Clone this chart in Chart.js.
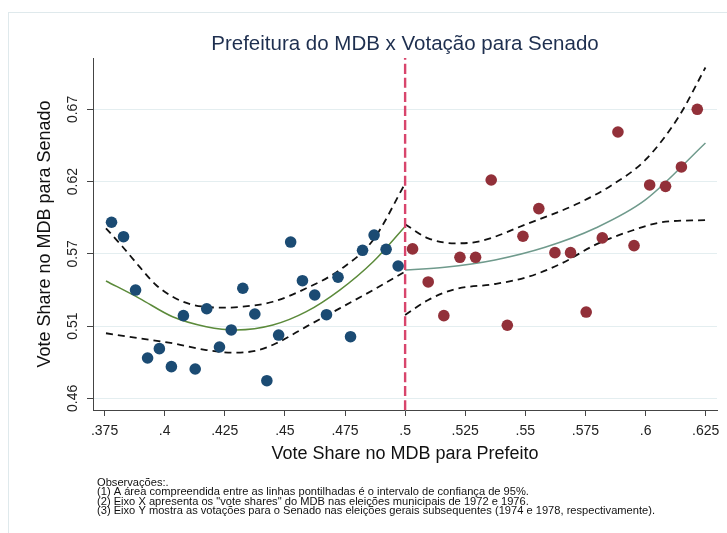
<!DOCTYPE html>
<html>
<head>
<meta charset="utf-8">
<script src="https://cdn.jsdelivr.net/npm/chart.js@4.4.1/dist/chart.umd.min.js"></script>
<style>
  html, body { margin: 0; padding: 0; background: #fff; }
  #wrap { width: 727px; height: 533px; }
</style>
</head>
<body>
<div id="wrap"><canvas id="chart" width="727" height="533"></canvas></div>
<script>
const chartTitle = 'Prefeitura do MDB x Votação para Senado';
const xTitle = 'Vote Share no MDB para Prefeito';
const yTitle = 'Vote Share no MDB para Senado';
const notes = [
    'Observações:.',
    '(1) A área compreendida entre as linhas pontilhadas é o intervalo de confiança de 95%.',
    '(2) Eixo X apresenta os "vote shares" do MDB nas eleições municipais de 1972 e 1976.',
    '(3) Eixo Y mostra as votações para o Senado nas eleições gerais subsequentes (1974 e 1978, respectivamente).'
];

const xTicks = [0.375, 0.4, 0.425, 0.45, 0.475, 0.5, 0.525, 0.55, 0.575, 0.6, 0.625];
const xTickLabels = ['.375', '.4', '.425', '.45', '.475', '.5', '.525', '.55', '.575', '.6', '.625'];
const yTicks = [0.46, 0.5125, 0.565, 0.6175, 0.67];
const yTickLabels = ['0.46', '0.51', '0.57', '0.62', '0.67'];
const xRange = [0.3702, 0.6297];
const yRange = [0.4515, 0.7074];
const cutoff = 0.5;

// binned means, below the cutoff
const leftX = [0.3779, 0.3829, 0.3879, 0.3929, 0.3978, 0.4028, 0.4078, 0.4127, 0.4175, 0.4228,
    0.4277, 0.4325, 0.4375, 0.4425, 0.4474, 0.4524, 0.4573, 0.4624, 0.4673, 0.4721,
    0.4773, 0.4823, 0.4871, 0.4921, 0.4971];
const leftY = [0.588, 0.5775, 0.5387, 0.4893, 0.4961, 0.483, 0.5201, 0.4813, 0.5251, 0.4973,
    0.5097, 0.54, 0.5213, 0.4728, 0.506, 0.5736, 0.5455, 0.5351, 0.5208, 0.548,
    0.5048, 0.5676, 0.5787, 0.5683, 0.5562];

// binned means, above the cutoff
const rightX = [0.5031, 0.5096, 0.5161, 0.5228, 0.5293, 0.5358, 0.5425, 0.549, 0.5556, 0.5623,
    0.5688, 0.5753, 0.582, 0.5885, 0.5952, 0.6017, 0.6083, 0.6149, 0.6215];
const rightY = [0.5686, 0.5446, 0.5201, 0.5625, 0.5625, 0.6187, 0.5131, 0.5778, 0.5979, 0.5659,
    0.5659, 0.5227, 0.5766, 0.6536, 0.571, 0.6151, 0.6141, 0.6282, 0.6701];

// fitted curves and 95% bands
const fitLeftX = [0.3756, 0.3895, 0.4033, 0.4173, 0.4298, 0.445, 0.4589, 0.4728, 0.4867, 0.4999];
const fitLeftY = [0.5453, 0.5327, 0.5193, 0.5121, 0.5097, 0.5133, 0.523, 0.5387, 0.5593, 0.5848];
const upLeftX = [0.3756, 0.3825, 0.3895, 0.3964, 0.4033, 0.4103, 0.4242, 0.4311, 0.445, 0.4589, 0.4728, 0.4867, 0.4999];
const upLeftY = [0.5836, 0.5702, 0.5557, 0.5424, 0.5339, 0.5286, 0.5259, 0.5264, 0.5302, 0.54, 0.5533, 0.5751, 0.6158];
const loLeftX = [0.3756, 0.3895, 0.4033, 0.4173, 0.4283, 0.4381, 0.4464, 0.4589, 0.4728, 0.4867, 0.4999];
const loLeftY = [0.5073, 0.5036, 0.5, 0.4951, 0.4932, 0.4946, 0.5, 0.5121, 0.5254, 0.5387, 0.5521];

const fitRightX = [0.5, 0.5165, 0.5374, 0.5582, 0.579, 0.5999, 0.6249];
const fitRightY = [0.5533, 0.5552, 0.5606, 0.5698, 0.5836, 0.6042, 0.6456];
const upRightX = [0.5, 0.5096, 0.5207, 0.5304, 0.5513, 0.5721, 0.586, 0.5999, 0.6138, 0.6249];
const upRightY = [0.5865, 0.5763, 0.5727, 0.5739, 0.5872, 0.6018, 0.6151, 0.6333, 0.6648, 0.7005];
const loRightX = [0.5, 0.5096, 0.5207, 0.5374, 0.5513, 0.5652, 0.579, 0.5929, 0.6068, 0.6249];
const loRightY = [0.5206, 0.5315, 0.5393, 0.5431, 0.5484, 0.5582, 0.5715, 0.5811, 0.588, 0.5896];

const pts = (xs, ys) => xs.map((x, i) => ({ x: x, y: ys[i] }));

const curve = (data, color, width, dash) => ({
    type: 'line',
    data: data,
    showLine: true,
    borderColor: color,
    borderWidth: width,
    borderDash: dash || [],
    pointRadius: 0,
    pointHoverRadius: 0,
    fill: false,
    cubicInterpolationMode: 'monotone'
});

const dots = (data, color) => ({
    type: 'scatter',
    data: data,
    backgroundColor: color,
    borderWidth: 0,
    pointRadius: 5.8,
    pointHoverRadius: 5.8
});

const bandDash = [7, 5];

const textPlugin = {
    id: 'stataText',
    beforeDraw(chart) {
        const ctx = chart.ctx;
        ctx.save();
        ctx.strokeStyle = '#dfe9ec';
        ctx.lineWidth = 1;
        ctx.strokeRect(8.5, 12.5, chart.width + 10, chart.height + 10);
        ctx.restore();
    },
    afterDraw(chart) {
        const ctx = chart.ctx;
        const area = chart.chartArea;
        ctx.save();
        ctx.fillStyle = '#1e2f4f';
        ctx.font = '20.5px "Liberation Sans", Arial, sans-serif';
        ctx.textAlign = 'center';
        ctx.textBaseline = 'middle';
        ctx.fillText(chartTitle, (area.left + area.right) / 2, 44);

        // Stata notes: tall, narrow text with tight line spacing
        ctx.fillStyle = '#111';
        ctx.font = '11.5px "Liberation Sans", Arial, sans-serif';
        ctx.textAlign = 'left';
        ctx.textBaseline = 'alphabetic';
        const widest = Math.max(...notes.map(n => ctx.measureText(n).width));
        const sx = 558 / widest;
        ctx.translate(97, 0);
        ctx.scale(sx, 1);
        notes.forEach((line, i) => {
            ctx.fillText(line, 0, 485.5 + i * 9.5);
        });
        ctx.restore();
    }
};

new Chart(document.getElementById('chart'), {
    type: 'scatter',
    data: {
        datasets: [
            curve([{ x: cutoff, y: yRange[0] }, { x: cutoff, y: yRange[1] }], '#d8456c', 2.4, [10, 4]),
            dots(pts(leftX, leftY), '#1b4b73'),
            dots(pts(rightX, rightY), '#923039'),
            curve(pts(fitLeftX, fitLeftY), '#5b8a3a', 1.5),
            curve(pts(fitRightX, fitRightY), '#6f9a8c', 1.5),
            curve(pts(upLeftX, upLeftY), '#111', 1.8, bandDash),
            curve(pts(loLeftX, loLeftY), '#111', 1.8, bandDash),
            curve(pts(upRightX, upRightY), '#111', 1.8, bandDash),
            curve(pts(loRightX, loRightY), '#111', 1.8, bandDash)
        ]
    },
    options: {
        responsive: false,
        animation: false,
        events: [],
        layout: { padding: { top: 58, right: 10, bottom: 0, left: 0 } },
        plugins: {
            legend: { display: false },
            tooltip: { enabled: false }
        },
        scales: {
            x: {
                type: 'linear',
                min: xRange[0],
                max: xRange[1],
                afterBuildTicks: (scale) => { scale.ticks = xTicks.map(v => ({ value: v })); },
                afterFit: (scale) => { scale.height = 123; },
                border: { display: true, color: '#444', width: 1 },
                grid: { drawOnChartArea: false, drawTicks: true, tickLength: 6, tickColor: '#444' },
                ticks: {
                    color: '#222',
                    font: { family: '"Liberation Sans", Arial, sans-serif', size: 14 },
                    padding: 7,
                    minRotation: 0,
                    maxRotation: 0,
                    callback: (value, index) => xTickLabels[index]
                },
                title: {
                    display: true,
                    text: xTitle,
                    color: '#111',
                    font: { family: '"Liberation Sans", Arial, sans-serif', size: 18 },
                    padding: { top: 0, bottom: 68 }
                }
            },
            y: {
                type: 'linear',
                min: yRange[0],
                max: yRange[1],
                afterBuildTicks: (scale) => { scale.ticks = yTicks.map(v => ({ value: v })); },
                afterFit: (scale) => { scale.width = 93; },
                border: { display: true, color: '#444', width: 1 },
                grid: { drawOnChartArea: true, color: '#e4eef0', lineWidth: 1, drawTicks: true, tickLength: 6, tickColor: '#444' },
                ticks: {
                    color: '#222',
                    font: { family: '"Liberation Sans", Arial, sans-serif', size: 14 },
                    padding: 0,
                    minRotation: 90,
                    maxRotation: 90,
                    crossAlign: 'center',
                    callback: (value, index) => yTickLabels[index]
                },
                title: {
                    display: true,
                    text: yTitle,
                    color: '#111',
                    font: { family: '"Liberation Sans", Arial, sans-serif', size: 18 },
                    padding: { top: 34, bottom: 0 }
                }
            }
        }
    },
    plugins: [textPlugin]
});
</script>
</body>
</html>
